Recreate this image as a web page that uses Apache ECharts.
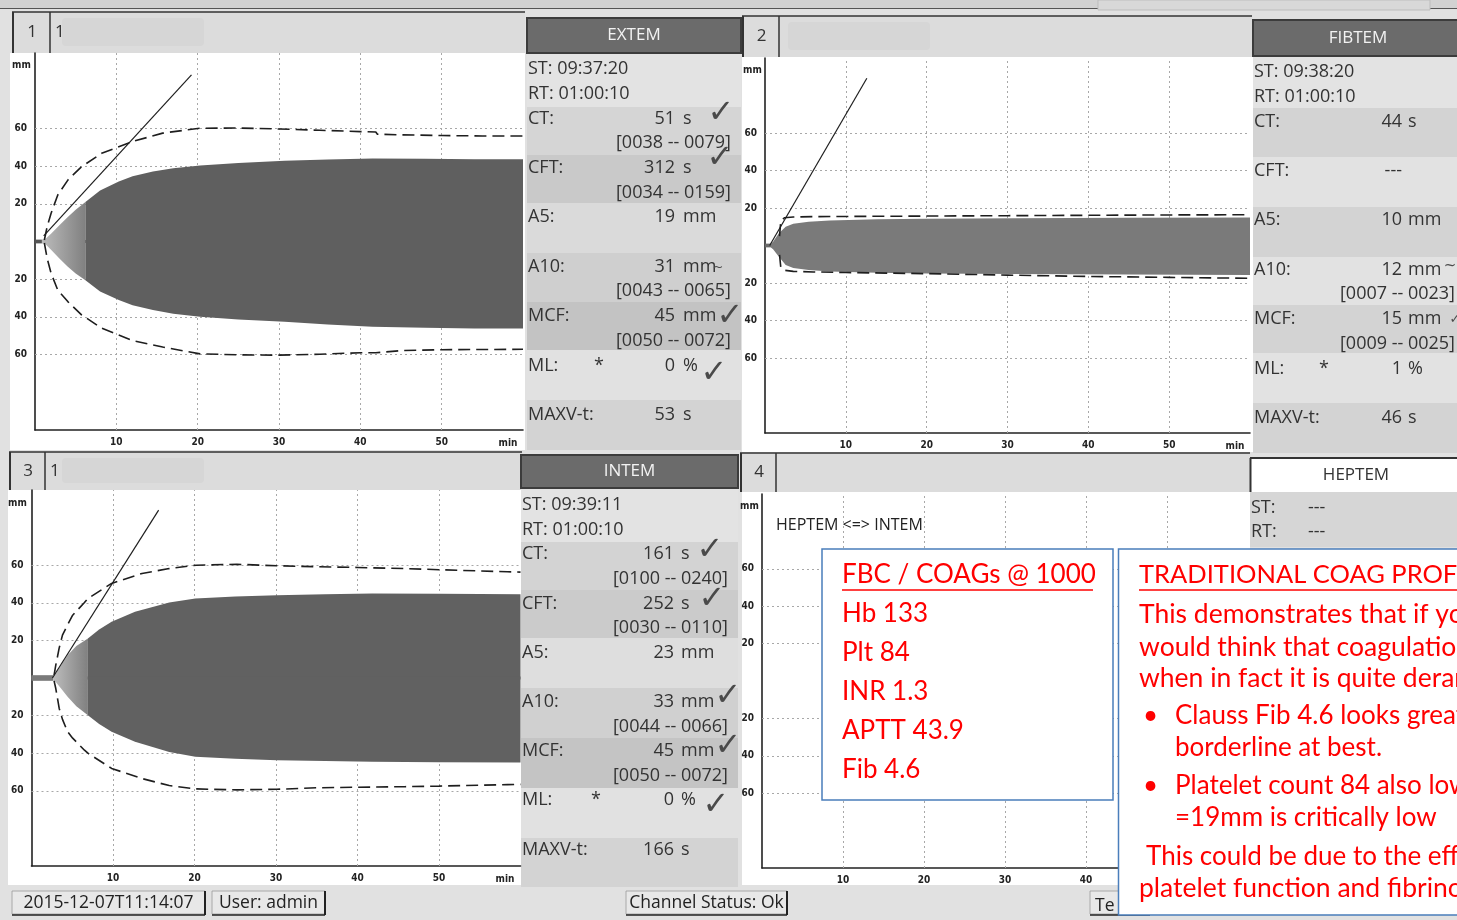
<!DOCTYPE html>
<html><head><meta charset="utf-8">
<script src="https://cdn.jsdelivr.net/npm/echarts@6/dist/echarts.min.js"></script>
<style>html,body{margin:0;padding:0;background:#e1e1e1;overflow:hidden}#c{width:1457px;height:920px}</style>
</head><body><div id="c"></div><script>
// ---------------- data ----------------
const xTickValues = [10, 20, 30, 40, 50];
const yTickValues = [-60, -40, -20, 20, 40, 60];

// EXTEM (time in min, amplitude in mm)
const extemTime  = [0, 0.85, 1.3, 2, 3, 4, 5, 6.2, 8, 10.3, 12, 14.5, 17, 20.3, 25, 30.7, 36, 41.5, 48, 54, 60];
const extemUpper = [1, 1, 1.5, 4.3, 8.6, 12.8, 16.8, 21, 27, 31.8, 34.6, 37.1, 38.9, 40.3, 41.7, 42.8, 43.5, 44, 43.9, 43.7, 43.6];
const extemLower = [1, 1, 1.5, 4.5, 9, 13.2, 17, 20.6, 26.5, 31, 33.8, 36.4, 38.3, 39.9, 41.4, 42.6, 44, 45.2, 45.8, 46.1, 46.1];
const extemRefTime  = [1.15, 1.5, 1.98, 2.8, 4.06, 5.72, 8.2, 11.96, 15.7, 20.3, 25, 30, 35, 40, 41.9, 42.1, 45, 50, 55, 60];
const extemRefUpper = [0.8, 8, 15, 24.7, 32.7, 39.7, 46.8, 53, 57.5, 60.1, 60.2, 59.7, 59, 58.3, 58.1, 56.9, 56.6, 56.2, 56, 56];
const extemRefLower = [0.8, 9, 16.9, 25.8, 32, 38.9, 46, 52.5, 56, 59.6, 60.1, 60.3, 59.8, 59, 59, 58.2, 57.9, 57.4, 57.3, 57.2];
const extemTangentTime = [1.07, 19.24];
const extemTangentAmp  = [3, 88.4];

// FIBTEM
const fibtemTime  = [0, 0.73, 1.0, 1.72, 2.56, 3.5, 5.4, 8, 13.9, 20, 30.9, 45, 60];
const fibtemUpper = [1, 1, 2, 6.5, 10, 11.6, 12.7, 13.4, 14, 14.3, 14.5, 14.8, 15];
const fibtemLower = [1, 1, 2, 6, 10.4, 12, 13, 13.8, 14.5, 14.9, 15.2, 15.5, 15.7];
const fibtemRefTime  = [1.8, 1.95, 2.4, 3.5, 6, 10, 20, 30, 40, 50, 60];
const fibtemRefUpper = [5, 13, 14.8, 15.2, 15.4, 15.5, 15.7, 15.9, 16.1, 16.3, 16.4];
const fibtemRefLower = [5, 11.5, 13.2, 13.8, 14.1, 14.4, 15, 15.8, 16.5, 17, 17.5];
const fibtemTangentTime = [0.58, 12.6];
const fibtemTangentAmp  = [0, 89.2];

// INTEM
const intemTime  = [0, 2.68, 3.0, 3.6, 4.43, 5.5, 6.92, 8.3, 9.83, 12.7, 16.9, 20.1, 25, 30.1, 36, 41.8, 50, 60];
const intemUpper = [1.5, 1.5, 2.5, 6.5, 12.1, 17, 21, 25.8, 29.9, 35.2, 40.2, 42.3, 43.4, 44, 44.5, 44.9, 44.8, 44.6];
const intemLower = [1.5, 1.5, 2.2, 5.5, 10, 15, 19.8, 24.5, 28.6, 33.9, 39.3, 41.9, 43, 43.7, 44.2, 44.6, 44.8, 45];
const intemRefTime  = [2.77, 2.98, 3.4, 3.8, 4.43, 5.05, 6.5, 6.92, 9.83, 13.56, 16.9, 20.2, 25.2, 30.1, 35, 40, 45.9, 50, 58.4, 60];
const intemRefUpper = [1.5, 6.8, 16, 22.8, 28.3, 33.4, 40.2, 42.3, 50.3, 55.6, 58.2, 60, 60.5, 59.7, 59.2, 58.8, 58.2, 57.6, 56.5, 56.3];
const intemRefLower = [1.5, 5.6, 16.2, 22, 28.6, 32, 38.4, 40, 48.1, 53.5, 57.2, 59, 59.5, 59.2, 58.4, 58.1, 57.8, 57.5, 56.7, 56.6];
const intemTangentTime = [2.57, 15.6];
const intemTangentAmp  = [0, 89.3];

// result tables
const extemRows = [
  ['ST: 09:37:20'], ['RT: 01:00:10'],
  ['CT:', '51', 's'], ['', '', '', '[0038 -- 0079]'],
  ['CFT:', '312', 's'], ['', '', '', '[0034 -- 0159]'],
  ['A5:', '19', 'mm'], [''],
  ['A10:', '31', 'mm'], ['', '', '', '[0043 -- 0065]'],
  ['MCF:', '45', 'mm'], ['', '', '', '[0050 -- 0072]'],
  ['ML:', '0', '%', '', '*'], [''],
  ['MAXV-t:', '53', 's']
];
const fibtemRows = [
  ['ST: 09:38:20'], ['RT: 01:00:10'],
  ['CT:', '44', 's'], [''],
  ['CFT:', '---', ''], [''],
  ['A5:', '10', 'mm'], [''],
  ['A10:', '12', 'mm'], ['', '', '', '[0007 -- 0023]'],
  ['MCF:', '15', 'mm'], ['', '', '', '[0009 -- 0025]'],
  ['ML:', '1', '%', '', '*'], [''],
  ['MAXV-t:', '46', 's']
];
const intemRows = [
  ['ST: 09:39:11'], ['RT: 01:00:10'],
  ['CT:', '161', 's'], ['', '', '', '[0100 -- 0240]'],
  ['CFT:', '252', 's'], ['', '', '', '[0030 -- 0110]'],
  ['A5:', '23', 'mm'], [''],
  ['A10:', '33', 'mm'], ['', '', '', '[0044 -- 0066]'],
  ['MCF:', '45', 'mm'], ['', '', '', '[0050 -- 0072]'],
  ['ML:', '0', '%', '', '*'], [''],
  ['MAXV-t:', '166', 's']
];
const fbcLines = ['Hb 133', 'Plt 84', 'INR 1.3', 'APTT 43.9', 'Fib 4.6'];
const fbcTitle = 'FBC / COAGs @ 1000';
const tradTitle = 'TRADITIONAL COAG PROFILE';

// ---------------- layout / helpers ----------------
const UI = "'Open Sans','Noto Sans',sans-serif";
const RED = "Lato,'Noto Sans',sans-serif";
const AX = "'DejaVu Sans Condensed','Liberation Sans Narrow','Liberation Sans',sans-serif";
const TXT = '#333';
const G = [];
function rect(x, y, w, h, fill, z, stroke, lw, r) {
  G.push({type: 'rect', z: z, silent: true, shape: {x: x, y: y, width: w, height: h, r: r || 0},
    style: {fill: fill, stroke: stroke || null, lineWidth: lw || 0}});
}
function line(x1, y1, x2, y2, color, lw, z) {
  G.push({type: 'line', z: z, silent: true, shape: {x1: x1, y1: y1, x2: x2, y2: y2},
    style: {stroke: color, lineWidth: lw}});
}
function text(x, y, s, font, color, align, z) {
  G.push({type: 'text', z: z, silent: true, x: x, y: y,
    style: {text: s, font: font, fill: color, textAlign: align || 'left', textVerticalAlign: 'middle',
      align: align || 'left', verticalAlign: 'middle'}});
}

// top strip
rect(0, 0, 1457, 8, '#d2d2d2', -5);
line(0, 8.5, 1457, 8.5, '#555', 1.2, -4);
rect(1098, 0, 332, 10, '#d8d8d8', -4, '#bdbdbd', 1);

// header of a channel panel
function channelHeader(x0, y0, x1, y1, cellX, num, sub, blurX, blurW) {
  rect(x0, y0, x1 - x0, y1 - y0, '#dcdcdc', -5);
  line(x0, y0, x1, y0, '#333', 1.5, -4);
  line(x0 + 1, y0, x0 + 1, y1, '#333', 2, -4);
  line(cellX, y0, cellX, y1, '#333', 1.5, -4);
  text((x0 + cellX) / 2 + 1, (y0 + y1) / 2, num, '17px ' + UI, TXT, 'center', -3);
  if (sub) text(cellX + 5, (y0 + y1) / 2, sub, '17px ' + UI, TXT, 'left', -3);
  if (blurW) rect(blurX, y0 + 6, blurW, y1 - y0 - 13, '#d6d6d6', -3, null, 0, 4);
}
channelHeader(12, 12, 525, 53, 50, '1', '1', 62, 142);
channelHeader(742, 16, 1252, 57, 779, '2', '', 788, 142);
channelHeader(9, 452, 522, 490, 45, '3', '1', 62, 142);
channelHeader(740, 453, 1250, 492, 776, '4', '', 0, 0);

// white plot panels
rect(10, 53, 515, 397, '#ffffff', -5);
rect(742, 57, 511, 395, '#ffffff', -5);
rect(8, 490, 514, 395, '#ffffff', -5);
rect(742, 492, 508, 393, '#ffffff', -5);

// axis unit labels
const unitFont = 'bold 10px ' + AX;
text(12, 65, 'mm', unitFont, '#222', 'left', -2);
text(743, 70, 'mm', unitFont, '#222', 'left', -2);
text(8, 503, 'mm', unitFont, '#222', 'left', -2);
text(740, 506, 'mm', unitFont, '#222', 'left', -2);
text(508, 443, 'min', unitFont, '#222', 'center', -2);
text(1235, 446, 'min', unitFont, '#222', 'center', -2);
text(505, 879, 'min', unitFont, '#222', 'center', -2);

// result panels
function resultPanel(cfg) {
  rect(cfg.x, cfg.hy0, cfg.w, cfg.hy1 - cfg.hy0, cfg.headFill, -2, cfg.headStroke, 2);
  text(cfg.x + cfg.w / 2, (cfg.hy0 + cfg.hy1) / 2, cfg.title, '17px ' + UI, cfg.headText, 'center', -1);
  cfg.bands.forEach(function (b) { rect(cfg.x, b[0], cfg.w, b[1] - b[0], b[2], -4); });
  cfg.rows.forEach(function (r, i) {
    const y = cfg.y0 + i * cfg.dy;
    const f = '18px ' + UI;
    if (r[0]) text(cfg.x + 1, y, r[0], f, TXT, 'left', -1);
    if (r[1]) text(cfg.numX, y, r[1], f, TXT, 'right', -1);
    if (r[2]) text(cfg.unitX, y, r[2], f, TXT, 'left', -1);
    if (r[3]) text(cfg.brX, y, r[3], f, TXT, 'right', -1);
    if (r[4]) text(cfg.starX, y, r[4], f, TXT, 'center', -1);
  });
  (cfg.checks || []).forEach(function (c) {
    text(c[0], c[1], c[2], (c[3] || 32) + 'px DejaVu Sans', '#4a4a4a', 'center', -1);
  });
}
resultPanel({x: 527, w: 214, hy0: 18, hy1: 53, title: 'EXTEM', headFill: '#6b6b6b', headStroke: '#3c3c3c', headText: '#f2f2f2',
  bands: [[53, 107, '#e3e3e3'], [107, 155, '#d5d5d5'], [155, 203, '#c9c9c9'], [203, 253, '#dadada'], [253, 302, '#cfcfcf'], [302, 350, '#c3c3c3'], [350, 400, '#e1e1e1'], [400, 450, '#d3d3d3']],
  rows: extemRows, y0: 69, dy: 24.7, numX: 675, unitX: 683, brX: 731, starX: 599,
  checks: [[721, 114, '✓'], [720, 159, '✓'], [718, 268, '~', 13], [730, 317, '✓'], [714, 374, '✓']]});
resultPanel({x: 1253, w: 210, hy0: 20, hy1: 56, title: 'FIBTEM', headFill: '#6b6b6b', headStroke: '#3c3c3c', headText: '#f2f2f2',
  bands: [[56, 108, '#e3e3e3'], [108, 157, '#d3d3d3'], [157, 207, '#e2e2e2'], [207, 257, '#d3d3d3'], [257, 305, '#e2e2e2'], [305, 353, '#d3d3d3'], [353, 403, '#e2e2e2'], [403, 453, '#d3d3d3']],
  rows: fibtemRows, y0: 72, dy: 24.7, numX: 1402, unitX: 1408, brX: 1455, starX: 1324,
  checks: [[1450, 266, '~', 15], [1455, 320, '✓', 13]]});
resultPanel({x: 521, w: 217, hy0: 455, hy1: 488, title: 'INTEM', headFill: '#6b6b6b', headStroke: '#3c3c3c', headText: '#f2f2f2',
  bands: [[488, 542, '#e3e3e3'], [542, 590, '#d3d3d3'], [590, 638, '#cbcbcb'], [638, 688, '#dedede'], [688, 738, '#d0d0d0'], [738, 788, '#c4c4c4'], [788, 838, '#e1e1e1'], [838, 887, '#d3d3d3']],
  rows: intemRows, y0: 505, dy: 24.6, numX: 674, unitX: 681, brX: 728, starX: 596,
  checks: [[710, 551, '✓'], [712, 600, '✓'], [728, 697, '✓'], [728, 747, '✓'], [716, 806, '✓']]});

// HEPTEM header
rect(1250, 458, 207, 34, '#ffffff', -3);
line(1250, 458, 1457, 458, '#333', 2, -2);
line(1250.5, 458, 1250.5, 492, '#333', 2, -2);
text(1356, 475, 'HEPTEM', '17px ' + UI, TXT, 'center', -1);
rect(1250, 492, 207, 55, '#d6d6d6', -3);
text(1251, 508, 'ST:', '18px ' + UI, TXT, 'left', -1);
text(1308, 508, '---', '18px ' + UI, TXT, 'left', -1);
text(1251, 532, 'RT:', '18px ' + UI, TXT, 'left', -1);
text(1308, 532, '---', '18px ' + UI, TXT, 'left', -1);
text(776, 525, 'HEPTEM <=> INTEM', '16px ' + UI, '#222', 'left', -1);

// bottom status bar
function button(x, w, s) {
  rect(x, 891, w, 23, '#e8e8e8', -3, '#9a9a9a', 0.8);
  line(x + w, 891, x + w, 915, '#222', 2, -2);
  line(x, 915, x + w, 915, '#222', 1.5, -2);
  text(x + w / 2, 903, s, '17.5px ' + UI, '#222', 'center', -1);
}
button(12, 193, '2015-12-07T11:14:07');
button(212, 113, 'User: admin');
button(626, 161, 'Channel Status: Ok');
button(1090, 60, '');
text(1095, 906, 'Te', '17.5px ' + UI, '#222', 'left', -1);

// red annotation boxes (on top)
rect(822, 549, 291, 251, '#ffffff', 60, '#4a7ebb', 1.5);
rect(1118.5, 549, 345, 366, '#ffffff', 60, '#4a7ebb', 1.5);
const RF = '26px ' + RED;
text(842, 575, fbcTitle, RF, '#ff0000', 'left', 61);
line(842, 590, 1093, 590, '#ff0000', 1.5, 61);
fbcLines.forEach(function (s, i) { text(842, 614 + i * 38.8, s, RF, '#ff0000', 'left', 61); });
text(1139, 575, tradTitle, '25.5px ' + RED, '#ff0000', 'left', 61);
line(1139, 590, 1460, 590, '#ff0000', 1.5, 61);
text(1139, 614, 'This demonstrates that if you', '26.5px ' + RED, '#ff0000', 'left', 61);
text(1139, 647, 'would think that coagulation', '26.5px ' + RED, '#ff0000', 'left', 61);
text(1139, 678, 'when in fact it is quite deranged', '26.5px ' + RED, '#ff0000', 'left', 61);
text(1143, 716, '•', RF, '#ff0000', 'left', 61);
text(1175, 716, 'Clauss Fib 4.6 looks great', RF, '#ff0000', 'left', 61);
text(1175, 748, 'borderline at best.', RF, '#ff0000', 'left', 61);
text(1143, 786, '•', RF, '#ff0000', 'left', 61);
text(1175, 786, 'Platelet count 84 also low', RF, '#ff0000', 'left', 61);
text(1175, 818, '=19mm is critically low', RF, '#ff0000', 'left', 61);
text(1146, 857, 'This could be due to the effect', RF, '#ff0000', 'left', 61);
text(1139, 888, 'platelet function and fibrinogen', '26.5px ' + RED, '#ff0000', 'left', 61);

// ---------------- axes & series ----------------
const grids = [
  {left: 35, top: 53, width: 488, height: 377},
  {left: 765, top: 58, width: 485, height: 375},
  {left: 31.5, top: 490, width: 489, height: 376},
  {left: 762, top: 494, width: 486, height: 374}
];
const xAxes = [], yAxes = [];
grids.forEach(function (g, i) {
  xAxes.push({gridIndex: i, type: 'value', min: 0, max: 60, interval: 10,
    axisLine: {show: true, onZero: false, lineStyle: {color: '#222', width: 1.6}},
    axisTick: {show: false}, splitLine: {show: false},
    axisLabel: {margin: 7, fontSize: 10, fontWeight: 'bold', color: '#222', fontFamily: AX,
      formatter: function (v) { return xTickValues.indexOf(v) >= 0 ? String(v) : ''; }}});
  yAxes.push({gridIndex: i, type: 'value', min: -100, max: 100, interval: 20,
    axisLine: {show: true, onZero: false, lineStyle: {color: '#222', width: 1.6}},
    axisTick: {show: false}, splitLine: {show: false},
    axisLabel: {margin: 8, fontSize: 10, fontWeight: 'bold', color: '#222', fontFamily: AX,
      formatter: function (v) { return yTickValues.indexOf(v) >= 0 ? String(Math.abs(v)) : ''; }}});
});

const series = [];
function pairs(t, v, sign) { return t.map(function (x, i) { return [x, sign * v[i]]; }); }
function gridLines(gi) {
  series.push({type: 'line', xAxisIndex: gi, yAxisIndex: gi, data: [[0, 0]], symbol: 'none',
    lineStyle: {opacity: 0}, silent: true, z: 1, animation: false,
    markLine: {silent: true, symbol: ['none', 'none'], z: 1, animation: false, label: {show: false},
      lineStyle: {type: [2, 3], color: '#a8a8a8', width: 1},
      data: xTickValues.map(function (v) { return {xAxis: v}; })
        .concat(yTickValues.map(function (v) { return {yAxis: v}; }))}});
}
function areaPart(gi, data, color, origin) {
  series.push({type: 'line', xAxisIndex: gi, yAxisIndex: gi, data: data, symbol: 'none', showSymbol: false,
    lineStyle: {width: 0, opacity: 0}, areaStyle: {color: color, opacity: 1, origin: origin},
    silent: true, z: 3, animation: false});
}
function tem(gi, time, upper, lower, ct, split, dark, bandColor) {
  const up = pairs(time, upper, 1), lo = pairs(time, lower, -1);
  const ci = time.indexOf(ct);
  // the two halves overlap slightly around zero so no seam shows
  areaPart(gi, up.slice(0, ci + 1), bandColor, -0.8);
  areaPart(gi, lo.slice(0, ci + 1), bandColor, 0.8);
  if (split != null) {
    const si = time.indexOf(split);
    const grad = new echarts.graphic.LinearGradient(0, 0, 1, 0,
      [{offset: 0, color: '#bcbcbc'}, {offset: 1, color: '#808080'}]);
    areaPart(gi, up.slice(ci, si + 1), grad, -0.8);
    areaPart(gi, lo.slice(ci, si + 1), grad, 0.8);
    areaPart(gi, up.slice(si), dark, -0.8);
    areaPart(gi, lo.slice(si), dark, 0.8);
  } else {
    areaPart(gi, up.slice(ci), dark, -0.8);
    areaPart(gi, lo.slice(ci), dark, 0.8);
  }
}
function dashed(gi, t, v, sign) {
  series.push({type: 'line', xAxisIndex: gi, yAxisIndex: gi, data: pairs(t, v, sign), symbol: 'none',
    lineStyle: {type: [12, 6], color: '#1e1e1e', width: 1.6}, silent: true, z: 4, animation: false});
}
function tangent(gi, t, v) {
  series.push({type: 'line', xAxisIndex: gi, yAxisIndex: gi, data: pairs(t, v, 1), symbol: 'none',
    lineStyle: {color: '#1e1e1e', width: 1.2}, silent: true, z: 5, animation: false});
}

gridLines(0); gridLines(1); gridLines(2); gridLines(3);
tem(0, extemTime, extemUpper, extemLower, 0.85, 6.2, '#5f5f5f', '#555555');
dashed(0, extemRefTime, extemRefUpper, 1); dashed(0, extemRefTime, extemRefLower, -1);
tangent(0, extemTangentTime, extemTangentAmp);
tem(1, fibtemTime, fibtemUpper, fibtemLower, 0.73, null, '#7a7a7a', '#6a6a6a');
dashed(1, fibtemRefTime, fibtemRefUpper, 1); dashed(1, fibtemRefTime, fibtemRefLower, -1);
tangent(1, fibtemTangentTime, fibtemTangentAmp);
tem(2, intemTime, intemUpper, intemLower, 2.68, 6.92, '#616161', '#7a7a7a');
dashed(2, intemRefTime, intemRefUpper, 1); dashed(2, intemRefTime, intemRefLower, -1);
tangent(2, intemTangentTime, intemTangentAmp);

const chart = echarts.init(document.getElementById('c'), null, {renderer: 'canvas', width: 1457, height: 920});
chart.setOption({
  backgroundColor: '#e1e1e1',
  animation: false,
  grid: grids,
  xAxis: xAxes,
  yAxis: yAxes,
  series: series,
  graphic: {elements: G}
});
</script></body></html>
